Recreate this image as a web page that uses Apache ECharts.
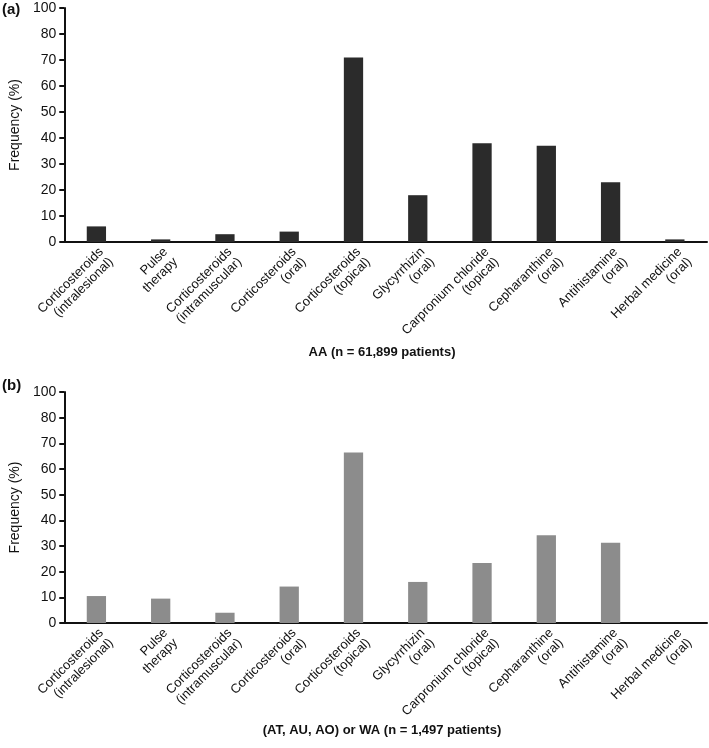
<!DOCTYPE html>
<html>
<head>
<meta charset="utf-8">
<script src="https://cdn.jsdelivr.net/npm/echarts@6/dist/echarts.min.js"></script>
<style>
html,body{margin:0;padding:0;background:#fff;}
#chart{width:709px;height:748px;}
</style>
</head>
<body>
<div id="chart"></div>
<script>
const categories = [
  'Corticosteroids\n(intralesional)',
  'Pulse\ntherapy',
  'Corticosteroids\n(intramuscular)',
  'Corticosteroids\n(oral)',
  'Corticosteroids\n(topical)',
  'Glycyrrhizin\n(oral)',
  'Carpronium chloride\n(topical)',
  'Cepharanthine\n(oral)',
  'Antihistamine\n(oral)',
  'Herbal medicine\n(oral)'
];
const valuesAA = [6, 1, 3, 4, 71, 18, 38, 37, 23, 1];
const valuesOther = [10.5, 9.5, 4, 14.2, 66.4, 16, 23.4, 34.2, 31.3, 0];
const yTickValues = [0, 10, 20, 30, 40, 50, 60, 70, 80, 90];
const yTickLabels = ['0', '10', '20', '30', '40', '50', '60', '70', '80', '100'];
const captionA = 'AA (n = 61,899 patients)';
const captionB = '(AT, AU, AO) or WA (n = 1,497 patients)';
const panelLetters = ['(a)', '(b)'];

const FONT = '"Liberation Sans", Arial, sans-serif';
const chart = echarts.init(document.getElementById('chart'), null, {renderer: 'canvas'});

function yAxis(gi) {
  return {
    type: 'value', gridIndex: gi, min: 0, max: 90, interval: 10,
    name: 'Frequency (%)', nameLocation: 'middle', nameGap: 41,
    nameTextStyle: {fontFamily: FONT, fontSize: 14, color: '#111'},
    axisLine: {show: true, lineStyle: {color: '#111', width: 2}},
    axisTick: {show: true, length: 5, lineStyle: {color: '#111', width: 2}},
    axisLabel: {
      fontFamily: FONT, fontSize: 14, color: '#111', margin: 8,
      formatter: v => yTickLabels[yTickValues.indexOf(v)]
    },
    splitLine: {show: false}
  };
}
function xAxis(gi) {
  return {
    type: 'category', gridIndex: gi, data: categories,
    axisLine: {show: true, lineStyle: {color: '#111', width: 2}},
    axisTick: {show: false},
    axisLabel: {
      interval: 0, rotate: 45, fontFamily: FONT, fontSize: 13, color: '#111',
      margin: 3, lineHeight: 14, align: 'right', verticalAlign: 'top'
    }
  };
}

chart.setOption({
  animation: false,
  backgroundColor: '#fff',
  title: [
    {text: panelLetters[0], left: 2, top: 2, padding: 0, textStyle: {fontFamily: FONT, fontSize: 15, fontWeight: 'bold', color: '#111'}},
    {text: panelLetters[1], left: 2, top: 378, padding: 0, textStyle: {fontFamily: FONT, fontSize: 15, fontWeight: 'bold', color: '#111'}},
    {text: captionA, left: 382, top: 346, padding: 0, textAlign: 'center', textStyle: {fontFamily: FONT, fontSize: 13, fontWeight: 'bold', color: '#111'}},
    {text: captionB, left: 382, top: 724, padding: 0, textAlign: 'center', textStyle: {fontFamily: FONT, fontSize: 13, fontWeight: 'bold', color: '#111'}}
  ],
  grid: [
    {left: 58, right: 2, top: 8, height: 234},
    {left: 58, right: 2, top: 392, height: 231}
  ],
  xAxis: [xAxis(0), xAxis(1)],
  yAxis: [yAxis(0), yAxis(1)],
  series: [
    {type: 'bar', xAxisIndex: 0, yAxisIndex: 0, data: valuesAA, barWidth: '30%', itemStyle: {color: '#2b2b2b'}},
    {type: 'bar', xAxisIndex: 1, yAxisIndex: 1, data: valuesOther, barWidth: '30%', itemStyle: {color: '#8c8c8c'}}
  ]
});
</script>
</body>
</html>
